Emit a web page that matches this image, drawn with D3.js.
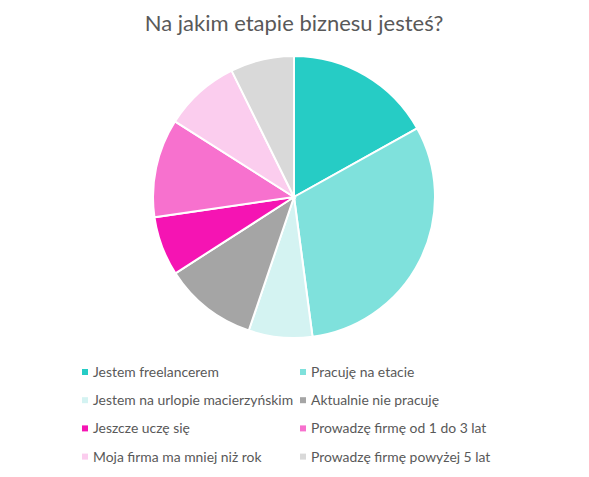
<!DOCTYPE html>
<html>
<head>
<meta charset="utf-8">
<script src="https://cdn.jsdelivr.net/npm/d3@7"></script>
<style>
  body { margin: 0; background: #fff; }
  svg { font-family: Lato, "Open Sans", sans-serif; }
</style>
</head>
<body>
<div id="chart"></div>
<script>
var categories = [
  'Jestem freelancerem',
  'Pracuję na etacie',
  'Jestem na urlopie macierzyńskim',
  'Aktualnie nie pracuję',
  'Jeszcze uczę się',
  'Prowadzę firmę od 1 do 3 lat',
  'Moja firma ma mniej niż rok',
  'Prowadzę firmę powyżej 5 lat'
];
var values = [16.9, 31.0, 7.3, 10.7, 6.8, 11.3, 8.7, 7.3];
var colors = ['#26CCC5', '#7FE1DC', '#D4F3F2', '#A5A5A5', '#F514B3', '#F771CE', '#FBCDEE', '#D9D9D9'];

var width = 589, height = 477;

var svg = d3.select('#chart')
    .append('svg')
    .attr('width', width)
    .attr('height', height);

svg.append('text')
    .attr('x', 294)
    .attr('y', 31)
    .attr('text-anchor', 'middle')
    .style('font-size', '22px')
    .style('fill', '#595959')
    .text('Na jakim etapie biznesu jesteś?');

var data = categories.map(function(c, i) { return {name: c, value: values[i], color: colors[i]}; });

var pie = d3.pie().sort(null).value(function(d) { return d.value; });
var arc = d3.arc().innerRadius(0).outerRadius(141);

var g = svg.append('g')
    .attr('transform', 'translate(294,197)');

g.selectAll('path')
    .data(pie(data))
    .enter()
    .append('path')
    .attr('d', arc)
    .attr('fill', function(d) { return d.data.color; })
    .attr('stroke', '#fff')
    .attr('stroke-width', 2);

// legend, two columns
var legend = svg.append('g');
var item = legend.selectAll('g')
    .data(data)
    .enter()
    .append('g')
    .attr('transform', function(d, i) {
        var x = i % 2 == 0 ? 82 : 300;
        var y = 377 + Math.floor(i / 2) * 28.2;
        return `translate(${x},${y})`;
    });

item.append('rect')
    .attr('x', 0)
    .attr('y', -8)
    .attr('width', 6)
    .attr('height', 6)
    .attr('fill', function(d) { return d.color; });

item.append('text')
    .attr('x', 11)
    .attr('y', 0)
    .style('font-size', '13.9px')
    .style('fill', '#595959')
    .text(function(d) { return d.name; });
</script>
</body>
</html>
